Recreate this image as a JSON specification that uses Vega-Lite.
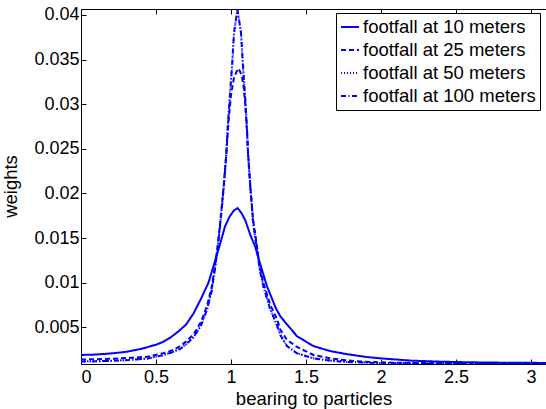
{
  "$schema": "https://vega.github.io/schema/vega-lite/v6.json",
  "width": 465,
  "height": 355,
  "autosize": {"type": "none"},
  "padding": {"left": 81, "top": 9, "right": 0, "bottom": 45},
  "background": "white",
  "config": {
    "view": {"stroke": null},
    "font": "Liberation Sans",
    "axis": {"grid": false, "domainColor": "black", "tickColor": "black", "labelColor": "black", "titleColor": "black", "labelFont": "Liberation Sans", "titleFont": "Liberation Sans", "titleFontWeight": "normal", "labelFontSize": 18, "titleFontSize": 18.5, "tickSize": -5, "labelPadding": 12}
  },
  "datasets": {
    "curves": [
      {"s": "footfall at 10 meters", "x": 0, "w": 0.0019},
      {"s": "footfall at 10 meters", "x": 0.1, "w": 0.00195},
      {"s": "footfall at 10 meters", "x": 0.2, "w": 0.00207},
      {"s": "footfall at 10 meters", "x": 0.3, "w": 0.00225},
      {"s": "footfall at 10 meters", "x": 0.4, "w": 0.00258},
      {"s": "footfall at 10 meters", "x": 0.5, "w": 0.00305},
      {"s": "footfall at 10 meters", "x": 0.55, "w": 0.00339},
      {"s": "footfall at 10 meters", "x": 0.6, "w": 0.0039},
      {"s": "footfall at 10 meters", "x": 0.65, "w": 0.00455},
      {"s": "footfall at 10 meters", "x": 0.7, "w": 0.0053},
      {"s": "footfall at 10 meters", "x": 0.75, "w": 0.00655},
      {"s": "footfall at 10 meters", "x": 0.8, "w": 0.0082},
      {"s": "footfall at 10 meters", "x": 0.85, "w": 0.0100},
      {"s": "footfall at 10 meters", "x": 0.9, "w": 0.0128},
      {"s": "footfall at 10 meters", "x": 0.93, "w": 0.0145},
      {"s": "footfall at 10 meters", "x": 0.96, "w": 0.0163},
      {"s": "footfall at 10 meters", "x": 0.99, "w": 0.0174},
      {"s": "footfall at 10 meters", "x": 1.02, "w": 0.0181},
      {"s": "footfall at 10 meters", "x": 1.044, "w": 0.01835},
      {"s": "footfall at 10 meters", "x": 1.07, "w": 0.0178},
      {"s": "footfall at 10 meters", "x": 1.095, "w": 0.0170},
      {"s": "footfall at 10 meters", "x": 1.13, "w": 0.0153},
      {"s": "footfall at 10 meters", "x": 1.16, "w": 0.0141},
      {"s": "footfall at 10 meters", "x": 1.2, "w": 0.0118},
      {"s": "footfall at 10 meters", "x": 1.24, "w": 0.0096},
      {"s": "footfall at 10 meters", "x": 1.3, "w": 0.0071},
      {"s": "footfall at 10 meters", "x": 1.33, "w": 0.0062},
      {"s": "footfall at 10 meters", "x": 1.4, "w": 0.0048},
      {"s": "footfall at 10 meters", "x": 1.44, "w": 0.0040},
      {"s": "footfall at 10 meters", "x": 1.5, "w": 0.0034},
      {"s": "footfall at 10 meters", "x": 1.55, "w": 0.0029},
      {"s": "footfall at 10 meters", "x": 1.66, "w": 0.00234},
      {"s": "footfall at 10 meters", "x": 1.77, "w": 0.0020},
      {"s": "footfall at 10 meters", "x": 1.9, "w": 0.00168},
      {"s": "footfall at 10 meters", "x": 2.0, "w": 0.00152},
      {"s": "footfall at 10 meters", "x": 2.2, "w": 0.00127},
      {"s": "footfall at 10 meters", "x": 2.4, "w": 0.00115},
      {"s": "footfall at 10 meters", "x": 2.6, "w": 0.00108},
      {"s": "footfall at 10 meters", "x": 2.8, "w": 0.00104},
      {"s": "footfall at 10 meters", "x": 3.0, "w": 0.00102},
      {"s": "footfall at 10 meters", "x": 3.1, "w": 0.00101},

      {"s": "footfall at 25 meters", "x": 0, "w": 0.0014},
      {"s": "footfall at 25 meters", "x": 0.1, "w": 0.00142},
      {"s": "footfall at 25 meters", "x": 0.2, "w": 0.00148},
      {"s": "footfall at 25 meters", "x": 0.3, "w": 0.00155},
      {"s": "footfall at 25 meters", "x": 0.44, "w": 0.0017},
      {"s": "footfall at 25 meters", "x": 0.55, "w": 0.0021},
      {"s": "footfall at 25 meters", "x": 0.62, "w": 0.0025},
      {"s": "footfall at 25 meters", "x": 0.662, "w": 0.0029},
      {"s": "footfall at 25 meters", "x": 0.7, "w": 0.0034},
      {"s": "footfall at 25 meters", "x": 0.75, "w": 0.0042},
      {"s": "footfall at 25 meters", "x": 0.8, "w": 0.0056},
      {"s": "footfall at 25 meters", "x": 0.84, "w": 0.0074},
      {"s": "footfall at 25 meters", "x": 0.87, "w": 0.0094},
      {"s": "footfall at 25 meters", "x": 0.89, "w": 0.0115},
      {"s": "footfall at 25 meters", "x": 0.911, "w": 0.0141},
      {"s": "footfall at 25 meters", "x": 0.93, "w": 0.0171},
      {"s": "footfall at 25 meters", "x": 0.951, "w": 0.0208},
      {"s": "footfall at 25 meters", "x": 0.969, "w": 0.0245},
      {"s": "footfall at 25 meters", "x": 0.984, "w": 0.0282},
      {"s": "footfall at 25 meters", "x": 1.0, "w": 0.0310},
      {"s": "footfall at 25 meters", "x": 1.018, "w": 0.0328},
      {"s": "footfall at 25 meters", "x": 1.035, "w": 0.0336},
      {"s": "footfall at 25 meters", "x": 1.051, "w": 0.0340},
      {"s": "footfall at 25 meters", "x": 1.062, "w": 0.0336},
      {"s": "footfall at 25 meters", "x": 1.073, "w": 0.0331},
      {"s": "footfall at 25 meters", "x": 1.085, "w": 0.0318},
      {"s": "footfall at 25 meters", "x": 1.095, "w": 0.0300},
      {"s": "footfall at 25 meters", "x": 1.107, "w": 0.0268},
      {"s": "footfall at 25 meters", "x": 1.113, "w": 0.0248},
      {"s": "footfall at 25 meters", "x": 1.129, "w": 0.0208},
      {"s": "footfall at 25 meters", "x": 1.147, "w": 0.0171},
      {"s": "footfall at 25 meters", "x": 1.173, "w": 0.0141},
      {"s": "footfall at 25 meters", "x": 1.19, "w": 0.0120},
      {"s": "footfall at 25 meters", "x": 1.217, "w": 0.0099},
      {"s": "footfall at 25 meters", "x": 1.26, "w": 0.0076},
      {"s": "footfall at 25 meters", "x": 1.307, "w": 0.0059},
      {"s": "footfall at 25 meters", "x": 1.33, "w": 0.0047},
      {"s": "footfall at 25 meters", "x": 1.373, "w": 0.0036},
      {"s": "footfall at 25 meters", "x": 1.44, "w": 0.0028},
      {"s": "footfall at 25 meters", "x": 1.55, "w": 0.0019},
      {"s": "footfall at 25 meters", "x": 1.66, "w": 0.00153},
      {"s": "footfall at 25 meters", "x": 1.77, "w": 0.0013},
      {"s": "footfall at 25 meters", "x": 1.88, "w": 0.00115},
      {"s": "footfall at 25 meters", "x": 2.1, "w": 0.00103},
      {"s": "footfall at 25 meters", "x": 2.5, "w": 0.00096},
      {"s": "footfall at 25 meters", "x": 3.1, "w": 0.00093},

      {"s": "footfall at 50 meters", "x": 0, "w": 0.00118},
      {"s": "footfall at 50 meters", "x": 0.1, "w": 0.0012},
      {"s": "footfall at 50 meters", "x": 0.2, "w": 0.00126},
      {"s": "footfall at 50 meters", "x": 0.3, "w": 0.00133},
      {"s": "footfall at 50 meters", "x": 0.44, "w": 0.0015},
      {"s": "footfall at 50 meters", "x": 0.55, "w": 0.0019},
      {"s": "footfall at 50 meters", "x": 0.62, "w": 0.0023},
      {"s": "footfall at 50 meters", "x": 0.662, "w": 0.0026},
      {"s": "footfall at 50 meters", "x": 0.7, "w": 0.0031},
      {"s": "footfall at 50 meters", "x": 0.75, "w": 0.0039},
      {"s": "footfall at 50 meters", "x": 0.8, "w": 0.0052},
      {"s": "footfall at 50 meters", "x": 0.84, "w": 0.0070},
      {"s": "footfall at 50 meters", "x": 0.87, "w": 0.0090},
      {"s": "footfall at 50 meters", "x": 0.89, "w": 0.0112},
      {"s": "footfall at 50 meters", "x": 0.911, "w": 0.0138},
      {"s": "footfall at 50 meters", "x": 0.93, "w": 0.0168},
      {"s": "footfall at 50 meters", "x": 0.951, "w": 0.0206},
      {"s": "footfall at 50 meters", "x": 0.969, "w": 0.0244},
      {"s": "footfall at 50 meters", "x": 0.977, "w": 0.0271},
      {"s": "footfall at 50 meters", "x": 0.991, "w": 0.0305},
      {"s": "footfall at 50 meters", "x": 1.007, "w": 0.0342},
      {"s": "footfall at 50 meters", "x": 1.02, "w": 0.0379},
      {"s": "footfall at 50 meters", "x": 1.043, "w": 0.0407},
      {"s": "footfall at 50 meters", "x": 1.067, "w": 0.0379},
      {"s": "footfall at 50 meters", "x": 1.08, "w": 0.0342},
      {"s": "footfall at 50 meters", "x": 1.095, "w": 0.0305},
      {"s": "footfall at 50 meters", "x": 1.107, "w": 0.0271},
      {"s": "footfall at 50 meters", "x": 1.113, "w": 0.0245},
      {"s": "footfall at 50 meters", "x": 1.129, "w": 0.0206},
      {"s": "footfall at 50 meters", "x": 1.147, "w": 0.0168},
      {"s": "footfall at 50 meters", "x": 1.173, "w": 0.0138},
      {"s": "footfall at 50 meters", "x": 1.19, "w": 0.0116},
      {"s": "footfall at 50 meters", "x": 1.217, "w": 0.0095},
      {"s": "footfall at 50 meters", "x": 1.26, "w": 0.0071},
      {"s": "footfall at 50 meters", "x": 1.307, "w": 0.0052},
      {"s": "footfall at 50 meters", "x": 1.33, "w": 0.0041},
      {"s": "footfall at 50 meters", "x": 1.373, "w": 0.0029},
      {"s": "footfall at 50 meters", "x": 1.44, "w": 0.0021},
      {"s": "footfall at 50 meters", "x": 1.55, "w": 0.00153},
      {"s": "footfall at 50 meters", "x": 1.66, "w": 0.00128},
      {"s": "footfall at 50 meters", "x": 1.77, "w": 0.00113},
      {"s": "footfall at 50 meters", "x": 2.0, "w": 0.001},
      {"s": "footfall at 50 meters", "x": 2.3, "w": 0.00094},
      {"s": "footfall at 50 meters", "x": 2.7, "w": 0.00091},
      {"s": "footfall at 50 meters", "x": 3.1, "w": 0.0009},

      {"s": "footfall at 100 meters", "x": 0, "w": 0.00116},
      {"s": "footfall at 100 meters", "x": 0.1, "w": 0.00119},
      {"s": "footfall at 100 meters", "x": 0.2, "w": 0.00124},
      {"s": "footfall at 100 meters", "x": 0.3, "w": 0.00132},
      {"s": "footfall at 100 meters", "x": 0.44, "w": 0.00149},
      {"s": "footfall at 100 meters", "x": 0.55, "w": 0.00188},
      {"s": "footfall at 100 meters", "x": 0.62, "w": 0.00228},
      {"s": "footfall at 100 meters", "x": 0.662, "w": 0.00259},
      {"s": "footfall at 100 meters", "x": 0.7, "w": 0.00308},
      {"s": "footfall at 100 meters", "x": 0.75, "w": 0.00388},
      {"s": "footfall at 100 meters", "x": 0.8, "w": 0.00518},
      {"s": "footfall at 100 meters", "x": 0.84, "w": 0.00698},
      {"s": "footfall at 100 meters", "x": 0.87, "w": 0.00898},
      {"s": "footfall at 100 meters", "x": 0.89, "w": 0.0112},
      {"s": "footfall at 100 meters", "x": 0.911, "w": 0.0138},
      {"s": "footfall at 100 meters", "x": 0.93, "w": 0.0168},
      {"s": "footfall at 100 meters", "x": 0.951, "w": 0.0206},
      {"s": "footfall at 100 meters", "x": 0.969, "w": 0.0244},
      {"s": "footfall at 100 meters", "x": 0.977, "w": 0.0272},
      {"s": "footfall at 100 meters", "x": 0.991, "w": 0.0306},
      {"s": "footfall at 100 meters", "x": 1.007, "w": 0.0343},
      {"s": "footfall at 100 meters", "x": 1.02, "w": 0.0380},
      {"s": "footfall at 100 meters", "x": 1.043, "w": 0.0406},
      {"s": "footfall at 100 meters", "x": 1.067, "w": 0.0380},
      {"s": "footfall at 100 meters", "x": 1.08, "w": 0.0343},
      {"s": "footfall at 100 meters", "x": 1.095, "w": 0.0306},
      {"s": "footfall at 100 meters", "x": 1.107, "w": 0.0272},
      {"s": "footfall at 100 meters", "x": 1.113, "w": 0.0246},
      {"s": "footfall at 100 meters", "x": 1.129, "w": 0.0206},
      {"s": "footfall at 100 meters", "x": 1.147, "w": 0.0168},
      {"s": "footfall at 100 meters", "x": 1.173, "w": 0.0138},
      {"s": "footfall at 100 meters", "x": 1.19, "w": 0.0116},
      {"s": "footfall at 100 meters", "x": 1.217, "w": 0.0095},
      {"s": "footfall at 100 meters", "x": 1.26, "w": 0.0071},
      {"s": "footfall at 100 meters", "x": 1.307, "w": 0.0052},
      {"s": "footfall at 100 meters", "x": 1.33, "w": 0.0041},
      {"s": "footfall at 100 meters", "x": 1.373, "w": 0.0029},
      {"s": "footfall at 100 meters", "x": 1.44, "w": 0.00208},
      {"s": "footfall at 100 meters", "x": 1.55, "w": 0.00152},
      {"s": "footfall at 100 meters", "x": 1.66, "w": 0.00127},
      {"s": "footfall at 100 meters", "x": 1.77, "w": 0.00112},
      {"s": "footfall at 100 meters", "x": 2.0, "w": 0.00099},
      {"s": "footfall at 100 meters", "x": 2.3, "w": 0.00093},
      {"s": "footfall at 100 meters", "x": 2.7, "w": 0.0009},
      {"s": "footfall at 100 meters", "x": 3.1, "w": 0.0009}
    ]
  },
  "data": {"name": "curves"},
  "resolve": {"axis": {"x": "independent", "y": "independent"}},
  "layer": [
    {
      "mark": {"type": "line", "color": "#0000ff", "clip": true},
      "encoding": {
        "x": {"field": "x", "type": "quantitative", "scale": {"domain": [0, 3.1], "nice": false, "zero": false},
              "axis": {"orient": "bottom", "values": [0, 0.5, 1, 1.5, 2, 2.5, 3], "format": "~g", "title": "bearing to particles", "labelPadding": 9, "titleY": 25, "titleBaseline": "top"}},
        "y": {"field": "w", "type": "quantitative", "scale": {"domain": [0.00089, 0.04067], "nice": false, "zero": false},
              "axis": {"orient": "left", "values": [0.005, 0.01, 0.015, 0.02, 0.025, 0.03, 0.035, 0.04], "format": ".3~f", "title": "weights", "labelPadding": 7, "titleX": -71, "titleY": 177, "titleBaseline": "middle", "titleAngle": -90, "titleAlign": "center"}},
        "detail": {"field": "s"},
        "strokeDash": {"field": "s", "type": "nominal",
          "scale": {"domain": ["footfall at 10 meters", "footfall at 25 meters", "footfall at 50 meters", "footfall at 100 meters"],
                    "range": [[1, 0], [5, 3], [1, 2], [5, 2.5, 1, 2.5]]},
          "legend": {"title": null, "orient": "none", "legendX": 255, "legendY": 4, "strokeColor": "black", "fillColor": "white", "padding": 4, "cornerRadius": 0,
                     "labelFont": "Liberation Sans", "labelFontSize": 18.5, "labelColor": "black", "labelOffset": 3, "labelLimit": 0, "rowPadding": 3,
                     "symbolType": "stroke", "symbolSize": 324, "symbolStrokeWidth": 2, "symbolStrokeColor": "#0000ff"}},
        "strokeWidth": {"field": "s", "type": "nominal",
          "scale": {"domain": ["footfall at 10 meters", "footfall at 25 meters", "footfall at 50 meters", "footfall at 100 meters"], "range": [2, 2, 1, 2]},
          "legend": null}
      }
    },
    {
      "mark": {"type": "point", "opacity": 0},
      "encoding": {
        "x": {"field": "x", "type": "quantitative", "axis": {"orient": "top", "values": [0, 0.5, 1, 1.5, 2, 2.5, 3], "labels": false, "title": null}},
        "y": {"field": "w", "type": "quantitative", "axis": {"orient": "right", "labels": false, "ticks": false, "domain": false, "title": null}}
      }
    }
  ]
}
